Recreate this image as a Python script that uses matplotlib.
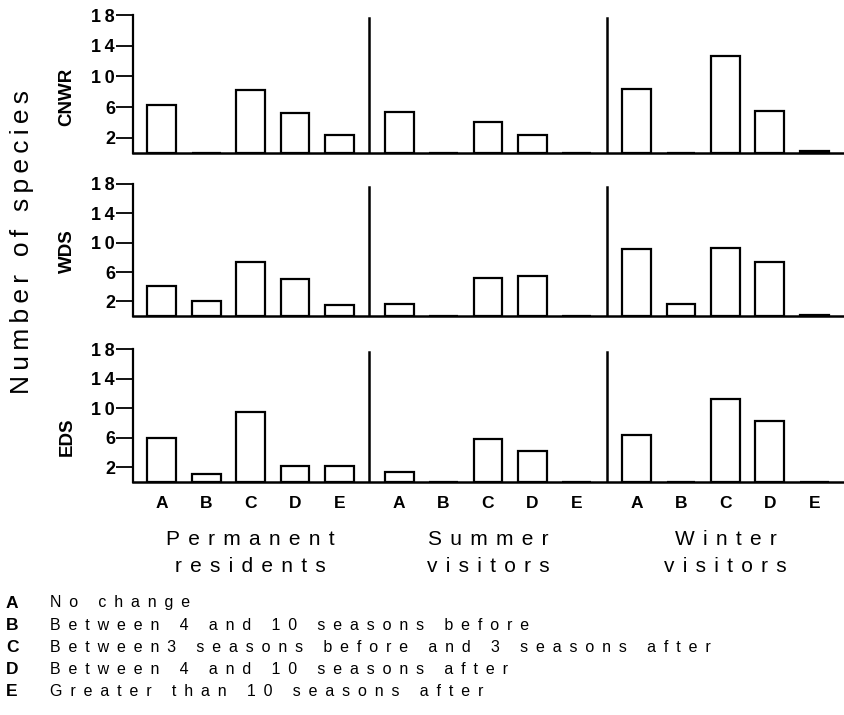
import matplotlib
matplotlib.use("Agg")
import matplotlib.pyplot as plt
import numpy as np

plt.rcParams['font.family'] = ['Liberation Sans', 'DejaVu Sans']

# ---- data ----
categories = ["A", "B", "C", "D", "E"]
groups = [("Permanent", "residents"), ("Summer", "visitors"), ("Winter", "visitors")]
sites = ["CNWR", "WDS", "EDS"]

cnwr_perm = [6.2, 0, 8.2, 5.2, 2.3]
cnwr_summer = [5.4, 0, 4.1, 2.4, 0]
cnwr_winter = [8.3, 0, 12.6, 5.5, 0.2]

wds_perm = [4.1, 2.1, 7.3, 5.1, 1.5]
wds_summer = [1.6, 0, 5.2, 5.5, 0]
wds_winter = [9.2, 1.7, 9.3, 7.3, 0.15]

eds_perm = [6.0, 1.1, 9.5, 2.1, 2.2]
eds_summer = [1.4, 0, 5.8, 4.2, 0]
eds_winter = [6.3, 0, 11.2, 8.3, 0]

yticks = [2, 6, 10, 14, 18]

legend_letters = ["A", "B", "C", "D", "E"]
legend_texts = ["No change",
                "Between 4 and 10 seasons before",
                "Between3 seasons before and 3 seasons after",
                "Between 4 and 10 seasons after",
                "Greater than 10 seasons after"]

panel_data = [
    [cnwr_perm, cnwr_summer, cnwr_winter],
    [wds_perm, wds_summer, wds_winter],
    [eds_perm, eds_summer, eds_winter],
]

HAIR = "\u200a"
THIN = "\u2009"


def spaced(s, sep=HAIR):
    return sep.join(s)


W, H = 844, 715
fig = plt.figure(figsize=(W / 100, H / 100), dpi=100)

# axes boxes in pixels: (top, bottom)
boxes = [(15, 153), (184, 316), (349, 482)]
label_centers = [97, 251, 437]
left_px, right_px = 133, 843

group_gap = 5.35
xpos = [[g * group_gap + i for i in range(5)] for g in range(3)]
seps = [(xpos[0][4] + xpos[1][0]) / 2, (xpos[1][4] + xpos[2][0]) / 2]

axes = []
for k, (top, bot) in enumerate(boxes):
    ax = fig.add_axes([left_px / W, 1 - bot / H, (right_px - left_px) / W, (bot - top) / H])
    axes.append(ax)
    for g in range(3):
        ax.bar(xpos[g], panel_data[k][g], width=0.65, color="white",
               edgecolor="black", linewidth=1.6, zorder=3)
    for sx in seps:
        ax.axvline(sx, ymin=0, ymax=0.975, color="black", linewidth=1.8, zorder=4)
    ax.set_ylim(0, 18)
    ax.set_xlim(-0.65, xpos[2][4] + 0.65)
    ax.spines["top"].set_visible(False)
    ax.spines["right"].set_visible(False)
    ax.spines["left"].set_linewidth(1.6)
    ax.spines["bottom"].set_linewidth(1.8)
    ax.set_yticks(yticks)
    ax.set_yticklabels([spaced(str(v), THIN) for v in yticks], fontsize=13, fontweight="bold")
    ax.tick_params(axis="y", length=12, width=1.3, pad=1)
    ax.tick_params(axis="x", length=0)
    ax.set_xticks([])
    # panel label
    fig.text(67 / W, 1 - label_centers[k] / H, sites[k], rotation=90, ha="center",
             va="center", fontsize=13.5, fontweight="bold")

# x tick labels on bottom axes
axb = axes[-1]
allx = [x for g in xpos for x in g]
axb.set_xticks(allx)
axb.set_xticklabels(categories * 3, fontsize=12.5, fontweight="bold")
axb.tick_params(axis="x", length=0, pad=10)

trans = axb.get_xaxis_transform()
for g in range(3):
    l1, l2 = groups[g]
    axb.text(xpos[g][2], -(545 - 482) / 133, spaced(l1, THIN * 2), transform=trans,
             ha="center", va="baseline", fontsize=15)
    axb.text(xpos[g][2], -(572 - 482) / 133, spaced(l2, THIN * 2), transform=trans,
             ha="center", va="baseline", fontsize=15)

# y label
fig.text(22 / W, 1 - 242 / H, spaced("Number of species", THIN), rotation=90,
         ha="center", va="center", fontsize=19)

# legend text
for i, (l, t) in enumerate(zip(legend_letters, legend_texts)):
    y = 1 - (603 + 22 * i) / H
    fig.text(6 / W, y, l, ha="left", va="center", fontsize=12.5, fontweight="bold")
    fig.text(50 / W, y, spaced(t, THIN * 2 + HAIR), ha="left", va="center", fontsize=11.5)

fig.savefig("out.png", dpi=100)
